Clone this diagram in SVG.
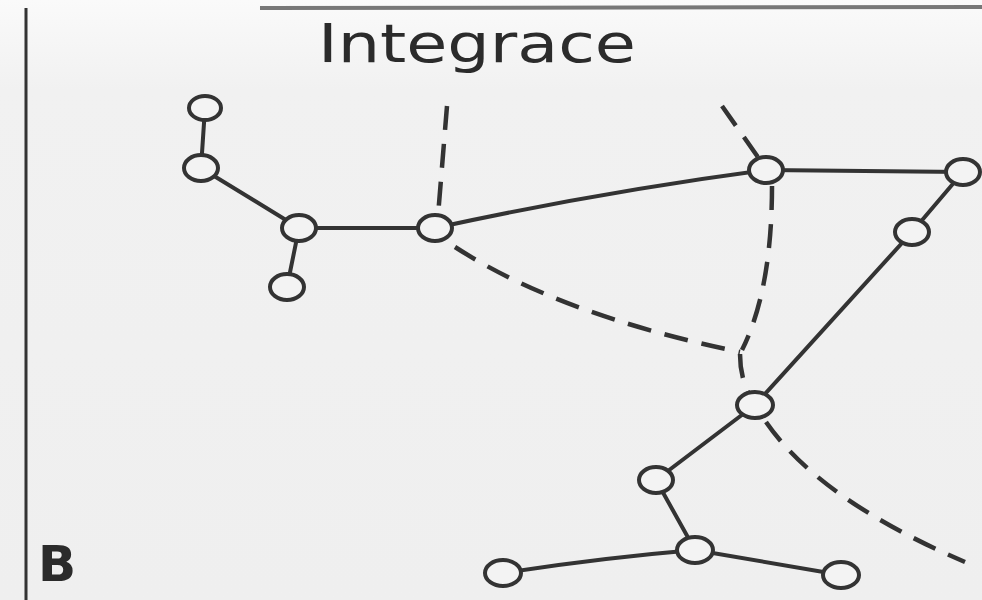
<svg xmlns="http://www.w3.org/2000/svg" width="982" height="600" viewBox="0 0 982 600">
  <defs>
    <linearGradient id="paper" x1="0" y1="0" x2="0" y2="1">
      <stop offset="0" stop-color="#fafafa"/>
      <stop offset="0.15" stop-color="#f1f1f1"/>
      <stop offset="1" stop-color="#efefef"/>
    </linearGradient>
    <style>
      .edge { fill: none; stroke: #333; stroke-width: 4; stroke-linecap: round; }
      .cut { fill: none; stroke: #333; stroke-width: 4.5; stroke-dasharray: 24 14; stroke-linecap: butt; }
      .node ellipse { fill: #f3f3f3; stroke: #333; stroke-width: 4; }
      .label { font-family: "DejaVu Sans", "Liberation Sans", sans-serif; fill: #2b2b2b; }
      .title { font-family: "DejaVu Sans Condensed", "DejaVu Sans", sans-serif; fill: #2b2b2b; }
    </style>
  </defs>

  <!-- paper -->
  <rect width="982" height="600" fill="url(#paper)"/>
  <line x1="26" y1="8" x2="26" y2="600" stroke="#333" stroke-width="3"/>
  <line x1="260" y1="8" x2="982" y2="7" stroke="#777" stroke-width="4"/>

  <!-- title and panel letter -->
  <text class="title" x="318" y="62" font-size="54" textLength="318" lengthAdjust="spacingAndGlyphs">Integrace</text>
  <text class="label" x="38" y="581" font-size="50" font-weight="bold">B</text>

  <!-- connectors -->
  <g id="connectors">
    <line class="edge" x1="205" y1="108" x2="201" y2="168"/>
    <line class="edge" x1="201" y1="168" x2="299" y2="228"/>
    <line class="edge" x1="299" y1="228" x2="287" y2="287"/>
    <line class="edge" x1="299" y1="228" x2="435" y2="228"/>
    <path class="edge" d="M435,228 Q600,192 766,170"/>
    <line class="edge" x1="766" y1="170" x2="963" y2="172"/>
    <line class="edge" x1="963" y1="172" x2="912" y2="232"/>
    <line class="edge" x1="912" y1="232" x2="755" y2="405"/>
    <line class="edge" x1="755" y1="405" x2="656" y2="480"/>
    <line class="edge" x1="656" y1="480" x2="695" y2="550"/>
    <path class="edge" d="M695,550 Q600,558 503,573"/>
    <line class="edge" x1="695" y1="550" x2="841" y2="575"/>

    <!-- dashed cut lines -->
    <line class="cut" x1="447" y1="106" x2="438" y2="216"/>
    <line class="cut" x1="722" y1="106" x2="760" y2="160"/>
    <path class="cut" d="M772,186 Q772,290 742,350"/>
    <path class="cut" d="M740,354 Q740,375 748,392"/>
    <path class="cut" d="M455,247 Q560,315 740,352"/>
    <path class="cut" d="M766,422 Q820,500 965,562"/>
  </g>

  <!-- nodes -->
  <g id="n1" class="node"><ellipse cx="205" cy="108" rx="16" ry="12"/></g>
  <g id="n2" class="node"><ellipse cx="201" cy="168" rx="17" ry="13"/></g>
  <g id="n3" class="node"><ellipse cx="299" cy="228" rx="17" ry="13"/></g>
  <g id="n4" class="node"><ellipse cx="287" cy="287" rx="17" ry="13"/></g>
  <g id="n5" class="node"><ellipse cx="435" cy="228" rx="17" ry="13"/></g>
  <g id="n6" class="node"><ellipse cx="766" cy="170" rx="17" ry="13"/></g>
  <g id="n7" class="node"><ellipse cx="963" cy="172" rx="17" ry="13"/></g>
  <g id="n8" class="node"><ellipse cx="912" cy="232" rx="17" ry="13"/></g>
  <g id="n9" class="node"><ellipse cx="755" cy="405" rx="18" ry="13"/></g>
  <g id="n10" class="node"><ellipse cx="656" cy="480" rx="17" ry="13"/></g>
  <g id="n11" class="node"><ellipse cx="695" cy="550" rx="18" ry="13"/></g>
  <g id="n12" class="node"><ellipse cx="503" cy="573" rx="18" ry="13"/></g>
  <g id="n13" class="node"><ellipse cx="841" cy="575" rx="18" ry="13"/></g>
</svg>
